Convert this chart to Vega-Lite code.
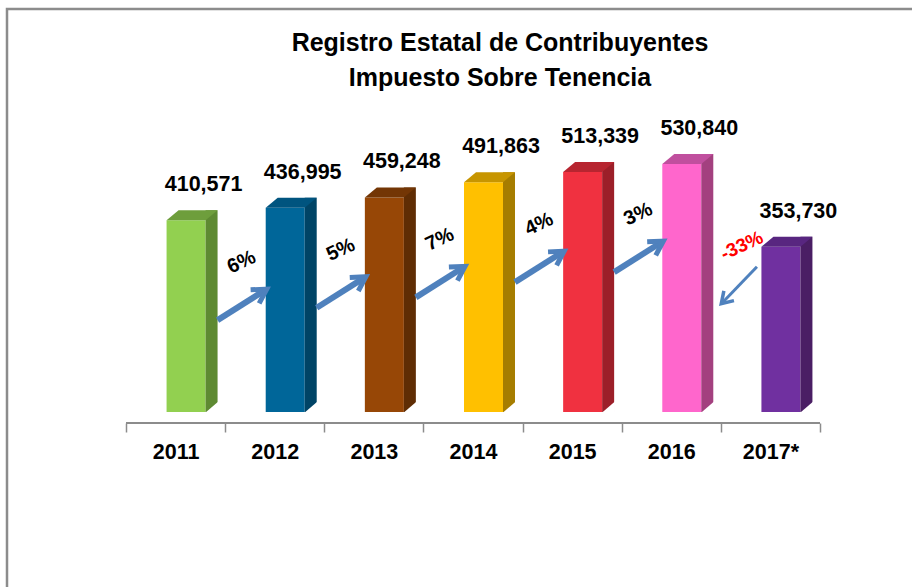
{
  "$schema": "https://vega.github.io/schema/vega-lite/v6.json",
  "width": 905,
  "height": 578,
  "autosize": {"type": "none"},
  "padding": {"left": 7, "top": 9, "right": 0, "bottom": 0},
  "background": "white",
  "config": {
    "view": {"stroke": "#8C8C8C", "strokeWidth": 2.5, "strokeDash": [905, 1483, 578], "fill": "white"},
    "font": "Liberation Sans",
    "locale": {"number": {"decimal": ".", "thousands": ",", "grouping": [3], "currency": ["$", ""], "minus": "-"}}
  },
  "title": {
    "text": ["Registro Estatal de Contribuyentes", "Impuesto Sobre Tenencia"],
    "font": "Liberation Sans",
    "fontSize": 25,
    "fontWeight": "bold",
    "color": "black",
    "anchor": "middle",
    "frame": "group",
    "lineHeight": 35,
    "baseline": "alphabetic",
    "offset": -102,
    "dx": 40.5
  },
  "datasets": {
    "bars": [
      {"year": "2011", "value": 410571},
      {"year": "2012", "value": 436995},
      {"year": "2013", "value": 459248},
      {"year": "2014", "value": 491863},
      {"year": "2015", "value": 513339},
      {"year": "2016", "value": 530840},
      {"year": "2017*", "value": 353730}
    ],
    "changes": [
      {"from": "2011", "to": "2012", "change": 0.064},
      {"from": "2012", "to": "2013", "change": 0.051},
      {"from": "2013", "to": "2014", "change": 0.071},
      {"from": "2014", "to": "2015", "change": 0.044},
      {"from": "2015", "to": "2016", "change": 0.034},
      {"from": "2016", "to": "2017*", "change": -0.334}
    ]
  },
  "resolve": {"scale": {"color": "independent"}},
  "layer": [
    {
      "data": {"name": "bars"},
      "mark": {"type": "bar", "width": 39, "xOffset": 10.5},
      "encoding": {
        "x": {
          "field": "year", "type": "nominal",
          "scale": {"type": "band", "domain": ["2011", "2012", "2013", "2014", "2015", "2016", "2017*"], "paddingInner": 0, "paddingOuter": 0, "range": [119, 813]},
          "axis": {"title": null, "domain": false, "tickBand": "extent", "ticks": true, "tickSize": 9, "tickColor": "#8C8C8C", "tickWidth": 1.5, "offset": -164, "labelFont": "Liberation Sans", "labelFontSize": 21.5, "labelFontWeight": "bold", "labelColor": "black", "labelPadding": 9, "labelAngle": 0, "grid": false}
        },
        "y": {"field": "value", "type": "quantitative", "scale": {"domain": [-374500, 862420], "nice": false, "zero": false}, "axis": null},
        "y2": {"datum": 0},
        "color": {"field": "year", "type": "nominal", "legend": null,
          "scale": {"domain": ["2011", "2012", "2013", "2014", "2015", "2016", "2017*"], "range": ["#92D050", "#006699", "#974706", "#FFC000", "#F03140", "#FF66CC", "#7030A0"]}}
      }
    },
    {
      "data": {"name": "bars"},
      "mark": {"type": "bar", "width": 12, "xOffset": 36, "yOffset": -10},
      "encoding": {
        "x": {"field": "year", "type": "nominal", "scale": {"type": "band", "domain": ["2011", "2012", "2013", "2014", "2015", "2016", "2017*"], "paddingInner": 0, "paddingOuter": 0, "range": [119, 813]}},
        "y": {"field": "value", "type": "quantitative", "scale": {"domain": [-374500, 862420], "nice": false, "zero": false}, "axis": null},
        "y2": {"datum": 0},
        "color": {"field": "year", "type": "nominal", "legend": null,
          "scale": {"domain": ["2011", "2012", "2013", "2014", "2015", "2016", "2017*"], "range": ["#5E8A32", "#004466", "#5F2D04", "#A67D00", "#9C1F29", "#A3407F", "#4A1E64"]}}
      }
    },
    {
      "data": {"name": "bars"},
      "mark": {"type": "point", "shape": "M 30 0.6 L 42.8 -10.4 L 42.8 0.6 Z", "size": 4, "filled": true, "color": "white", "strokeWidth": 0, "opacity": 1},
      "encoding": {
        "x": {"field": "year", "type": "nominal", "scale": {"type": "band", "domain": ["2011", "2012", "2013", "2014", "2015", "2016", "2017*"], "paddingInner": 0, "paddingOuter": 0, "range": [119, 813]}},
        "y": {"datum": 0, "type": "quantitative", "scale": {"domain": [-374500, 862420], "nice": false, "zero": false}, "axis": null}
      }
    },
    {
      "data": {"name": "bars"},
      "mark": {"type": "point", "shape": "M -9 0 L 30 0 L 42 -10 L 3 -10 Z", "size": 4, "filled": true, "strokeWidth": 0, "opacity": 1},
      "encoding": {
        "x": {"field": "year", "type": "nominal", "scale": {"type": "band", "domain": ["2011", "2012", "2013", "2014", "2015", "2016", "2017*"], "paddingInner": 0, "paddingOuter": 0, "range": [119, 813]}},
        "y": {"field": "value", "type": "quantitative", "scale": {"domain": [-374500, 862420], "nice": false, "zero": false}, "axis": null},
        "color": {"field": "year", "type": "nominal", "legend": null,
          "scale": {"domain": ["2011", "2012", "2013", "2014", "2015", "2016", "2017*"], "range": ["#6E9E3C", "#00547F", "#733605", "#C79500", "#B72530", "#C04F9E", "#582680"]}}
      }
    },
    {
      "data": {"name": "bars"},
      "mark": {"type": "text", "dx": 28, "dy": -29, "baseline": "alphabetic", "align": "center", "font": "Liberation Sans", "fontSize": 21.5, "fontWeight": "bold", "color": "black"},
      "encoding": {
        "x": {"field": "year", "type": "nominal", "scale": {"type": "band", "domain": ["2011", "2012", "2013", "2014", "2015", "2016", "2017*"], "paddingInner": 0, "paddingOuter": 0, "range": [119, 813]}},
        "y": {"field": "value", "type": "quantitative", "scale": {"domain": [-374500, 862420], "nice": false, "zero": false}, "axis": null},
        "text": {"field": "value", "type": "quantitative", "format": ","}
      }
    },
    {
      "data": {"values": [{}]},
      "mark": {"type": "rule", "color": "#8C8C8C", "strokeWidth": 2, "xOffset": -49.57, "x2Offset": 49.57, "yOffset": 11},
      "encoding": {
        "x": {"datum": "2011", "type": "nominal", "scale": {"type": "band", "domain": ["2011", "2012", "2013", "2014", "2015", "2016", "2017*"], "paddingInner": 0, "paddingOuter": 0, "range": [119, 813]}},
        "x2": {"datum": "2017*"},
        "y": {"datum": 0, "type": "quantitative", "scale": {"domain": [-374500, 862420], "nice": false, "zero": false}, "axis": null}
      }
    },
    {
      "data": {"name": "changes"},
      "transform": [
        {"filter": "datum.change > 0"},
        {"lookup": "from", "from": {"data": {"name": "bars"}, "key": "year", "fields": ["value"]}, "as": ["fromValue"]}
      ],
      "mark": {"type": "rule", "color": "#4F81BD", "strokeWidth": 6, "xOffset": 42, "x2Offset": -11.4, "yOffset": 100, "y2Offset": 71.1},
      "encoding": {
        "x": {"field": "from", "type": "nominal", "scale": {"type": "band", "domain": ["2011", "2012", "2013", "2014", "2015", "2016", "2017*"], "paddingInner": 0, "paddingOuter": 0, "range": [119, 813]}},
        "x2": {"field": "to"},
        "y": {"field": "fromValue", "type": "quantitative", "scale": {"domain": [-374500, 862420], "nice": false, "zero": false}, "axis": null},
        "y2": {"field": "fromValue"}
      }
    },
    {
      "data": {"name": "changes"},
      "transform": [
        {"filter": "datum.change > 0"},
        {"lookup": "from", "from": {"data": {"name": "bars"}, "key": "year", "fields": ["value"]}, "as": ["fromValue"]}
      ],
      "mark": {"type": "point", "shape": "M -14 -8 L 0 0 L -14 8", "size": 4, "filled": false, "color": "#4F81BD", "strokeWidth": 5, "strokeJoin": "miter", "opacity": 1, "angle": 327.7, "xOffset": -8, "yOffset": 69},
      "encoding": {
        "x": {"field": "to", "type": "nominal", "scale": {"type": "band", "domain": ["2011", "2012", "2013", "2014", "2015", "2016", "2017*"], "paddingInner": 0, "paddingOuter": 0, "range": [119, 813]}},
        "y": {"field": "fromValue", "type": "quantitative", "scale": {"domain": [-374500, 862420], "nice": false, "zero": false}, "axis": null}
      }
    },
    {
      "data": {"name": "changes"},
      "transform": [
        {"filter": "datum.change < 0"},
        {"lookup": "to", "from": {"data": {"name": "bars"}, "key": "year", "fields": ["value"]}, "as": ["toValue"]}
      ],
      "mark": {"type": "rule", "color": "#4F81BD", "strokeWidth": 3, "xOffset": -13.5, "x2Offset": 52, "yOffset": 20, "y2Offset": 55},
      "encoding": {
        "x": {"field": "to", "type": "nominal", "scale": {"type": "band", "domain": ["2011", "2012", "2013", "2014", "2015", "2016", "2017*"], "paddingInner": 0, "paddingOuter": 0, "range": [119, 813]}},
        "x2": {"field": "from"},
        "y": {"field": "toValue", "type": "quantitative", "scale": {"domain": [-374500, 862420], "nice": false, "zero": false}, "axis": null},
        "y2": {"field": "toValue"}
      }
    },
    {
      "data": {"name": "changes"},
      "transform": [
        {"filter": "datum.change < 0"},
        {"lookup": "to", "from": {"data": {"name": "bars"}, "key": "year", "fields": ["value"]}, "as": ["toValue"]}
      ],
      "mark": {"type": "point", "shape": "M -11 -7 L 0 0 L -11 7", "size": 4, "filled": false, "color": "#4F81BD", "strokeWidth": 3.5, "strokeJoin": "miter", "opacity": 1, "angle": 133.9, "xOffset": 50, "yOffset": 57},
      "encoding": {
        "x": {"field": "from", "type": "nominal", "scale": {"type": "band", "domain": ["2011", "2012", "2013", "2014", "2015", "2016", "2017*"], "paddingInner": 0, "paddingOuter": 0, "range": [119, 813]}},
        "y": {"field": "toValue", "type": "quantitative", "scale": {"domain": [-374500, 862420], "nice": false, "zero": false}, "axis": null}
      }
    },
    {
      "data": {"name": "changes"},
      "transform": [
        {"filter": "datum.change > 0"},
        {"lookup": "from", "from": {"data": {"name": "bars"}, "key": "year", "fields": ["value"]}, "as": ["fromValue"]}
      ],
      "mark": {"type": "text", "angle": 335, "align": "center", "baseline": "middle", "font": "Liberation Sans", "fontSize": 20, "fontWeight": "bold", "color": "black", "xOffset": 66, "yOffset": 42},
      "encoding": {
        "x": {"field": "from", "type": "nominal", "scale": {"type": "band", "domain": ["2011", "2012", "2013", "2014", "2015", "2016", "2017*"], "paddingInner": 0, "paddingOuter": 0, "range": [119, 813]}},
        "y": {"field": "fromValue", "type": "quantitative", "scale": {"domain": [-374500, 862420], "nice": false, "zero": false}, "axis": null},
        "text": {"field": "change", "type": "quantitative", "format": ".0%"}
      }
    },
    {
      "data": {"name": "changes"},
      "transform": [
        {"filter": "datum.change < 0"},
        {"lookup": "to", "from": {"data": {"name": "bars"}, "key": "year", "fields": ["value"]}, "as": ["toValue"]}
      ],
      "mark": {"type": "text", "angle": 335, "align": "center", "baseline": "middle", "font": "Liberation Sans", "fontSize": 19, "fontWeight": "bold", "color": "#FF0000", "xOffset": -28.5, "yOffset": -1},
      "encoding": {
        "x": {"field": "to", "type": "nominal", "scale": {"type": "band", "domain": ["2011", "2012", "2013", "2014", "2015", "2016", "2017*"], "paddingInner": 0, "paddingOuter": 0, "range": [119, 813]}},
        "y": {"field": "toValue", "type": "quantitative", "scale": {"domain": [-374500, 862420], "nice": false, "zero": false}, "axis": null},
        "text": {"field": "change", "type": "quantitative", "format": ".0%"}
      }
    }
  ]
}
